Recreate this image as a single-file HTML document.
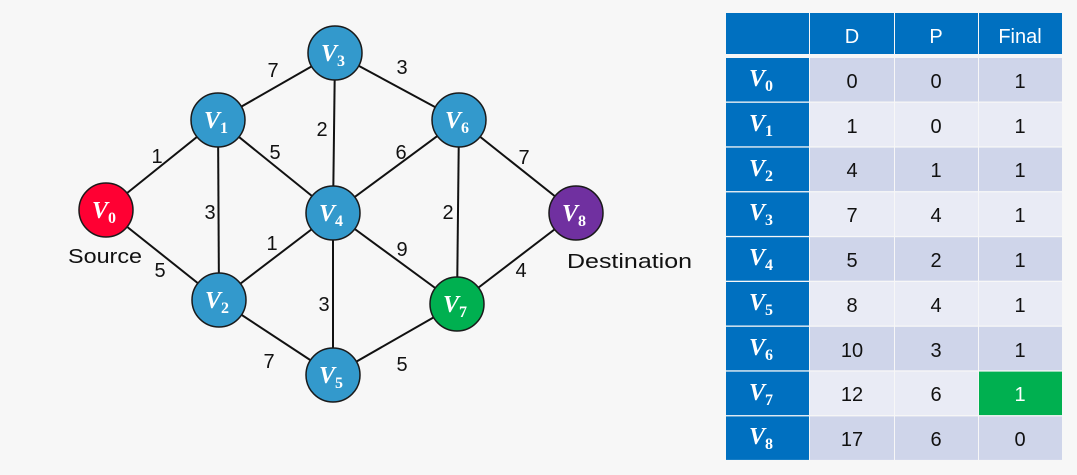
<!DOCTYPE html>
<html><head><meta charset="utf-8"><style>
html,body{margin:0;padding:0;background:#f7f7f7;}
svg{display:block}
</style></head><body>
<svg width="1077" height="475" viewBox="0 0 1077 475" xmlns="http://www.w3.org/2000/svg" font-family="Liberation Sans, sans-serif">
<rect width="1077" height="475" fill="#f7f7f7"/>
<g stroke="#111" stroke-width="2">
<line x1="106" y1="210" x2="218" y2="120"/>
<line x1="106" y1="210" x2="219" y2="300"/>
<line x1="218" y1="120" x2="335" y2="53"/>
<line x1="218" y1="120" x2="219" y2="300"/>
<line x1="218" y1="120" x2="333" y2="213"/>
<line x1="335" y1="53" x2="333" y2="213"/>
<line x1="335" y1="53" x2="459" y2="120"/>
<line x1="459" y1="120" x2="333" y2="213"/>
<line x1="459" y1="120" x2="457" y2="304"/>
<line x1="459" y1="120" x2="576" y2="213"/>
<line x1="219" y1="300" x2="333" y2="213"/>
<line x1="219" y1="300" x2="333" y2="375"/>
<line x1="333" y1="213" x2="333" y2="375"/>
<line x1="333" y1="213" x2="457" y2="304"/>
<line x1="333" y1="375" x2="457" y2="304"/>
<line x1="457" y1="304" x2="576" y2="213"/>
</g>
<g font-size="20" fill="#111" text-anchor="middle">
<text x="273" y="77">7</text>
<text x="402" y="74">3</text>
<text x="157" y="163">1</text>
<text x="275" y="159">5</text>
<text x="322" y="136">2</text>
<text x="401" y="159">6</text>
<text x="524" y="164">7</text>
<text x="210" y="219">3</text>
<text x="448" y="219">2</text>
<text x="272" y="250">1</text>
<text x="402" y="256">9</text>
<text x="160" y="277">5</text>
<text x="521" y="277">4</text>
<text x="324" y="311">3</text>
<text x="269" y="368">7</text>
<text x="402" y="371">5</text>
</g>
<g font-size="20" fill="#111">
<text x="68" y="263" textLength="74" lengthAdjust="spacingAndGlyphs">Source</text>
<text x="567" y="268" textLength="125" lengthAdjust="spacingAndGlyphs">Destination</text>
</g>
<g stroke="#1a1a1a" stroke-width="1.5">
<circle cx="106" cy="210" r="27" fill="#FF0033"/>
<circle cx="218" cy="120" r="27" fill="#3399CC"/>
<circle cx="219" cy="300" r="27" fill="#3399CC"/>
<circle cx="335" cy="53" r="27" fill="#3399CC"/>
<circle cx="333" cy="213" r="27" fill="#3399CC"/>
<circle cx="333" cy="375" r="27" fill="#3399CC"/>
<circle cx="459" cy="120" r="27" fill="#3399CC"/>
<circle cx="457" cy="304" r="27" fill="#00B050"/>
<circle cx="576" cy="213" r="27" fill="#7030A0"/>
</g>
<g fill="#fff" font-family="Liberation Serif, serif" font-weight="bold" font-style="italic" font-size="24">
<text x="92" y="218">V<tspan font-size="16" font-style="normal" dy="5">0</tspan></text>
<text x="204" y="128">V<tspan font-size="16" font-style="normal" dy="5">1</tspan></text>
<text x="205" y="308">V<tspan font-size="16" font-style="normal" dy="5">2</tspan></text>
<text x="321" y="61">V<tspan font-size="16" font-style="normal" dy="5">3</tspan></text>
<text x="319" y="221">V<tspan font-size="16" font-style="normal" dy="5">4</tspan></text>
<text x="319" y="383">V<tspan font-size="16" font-style="normal" dy="5">5</tspan></text>
<text x="445" y="128">V<tspan font-size="16" font-style="normal" dy="5">6</tspan></text>
<text x="443" y="312">V<tspan font-size="16" font-style="normal" dy="5">7</tspan></text>
<text x="562" y="221">V<tspan font-size="16" font-style="normal" dy="5">8</tspan></text>
</g>
<!-- table header -->
<rect x="726" y="13" width="83" height="41" fill="#0070C0"/>
<rect x="810" y="13" width="84" height="41" fill="#0070C0"/>
<rect x="895" y="13" width="83" height="41" fill="#0070C0"/>
<rect x="979" y="13" width="83" height="41" fill="#0070C0"/>
<g fill="#fff" font-size="20" text-anchor="middle">
<text x="852" y="43">D</text>
<text x="936" y="43">P</text>
<text x="1020" y="43">Final</text>
</g>
<!-- row backgrounds -->
<g>
<rect x="726" y="58" width="83" height="43.5" fill="#0070C0"/><rect x="810" y="58" width="84" height="43.5" fill="#CFD5EA"/><rect x="895" y="58" width="83" height="43.5" fill="#CFD5EA"/><rect x="979" y="58" width="83" height="43.5" fill="#CFD5EA"/>
<rect x="726" y="102.8" width="83" height="43.5" fill="#0070C0"/><rect x="810" y="102.8" width="84" height="43.5" fill="#E9EBF5"/><rect x="895" y="102.8" width="83" height="43.5" fill="#E9EBF5"/><rect x="979" y="102.8" width="83" height="43.5" fill="#E9EBF5"/>
<rect x="726" y="147.6" width="83" height="43.5" fill="#0070C0"/><rect x="810" y="147.6" width="84" height="43.5" fill="#CFD5EA"/><rect x="895" y="147.6" width="83" height="43.5" fill="#CFD5EA"/><rect x="979" y="147.6" width="83" height="43.5" fill="#CFD5EA"/>
<rect x="726" y="192.4" width="83" height="43.5" fill="#0070C0"/><rect x="810" y="192.4" width="84" height="43.5" fill="#E9EBF5"/><rect x="895" y="192.4" width="83" height="43.5" fill="#E9EBF5"/><rect x="979" y="192.4" width="83" height="43.5" fill="#E9EBF5"/>
<rect x="726" y="237.2" width="83" height="43.5" fill="#0070C0"/><rect x="810" y="237.2" width="84" height="43.5" fill="#CFD5EA"/><rect x="895" y="237.2" width="83" height="43.5" fill="#CFD5EA"/><rect x="979" y="237.2" width="83" height="43.5" fill="#CFD5EA"/>
<rect x="726" y="282" width="83" height="43.5" fill="#0070C0"/><rect x="810" y="282" width="84" height="43.5" fill="#E9EBF5"/><rect x="895" y="282" width="83" height="43.5" fill="#E9EBF5"/><rect x="979" y="282" width="83" height="43.5" fill="#E9EBF5"/>
<rect x="726" y="326.8" width="83" height="43.5" fill="#0070C0"/><rect x="810" y="326.8" width="84" height="43.5" fill="#CFD5EA"/><rect x="895" y="326.8" width="83" height="43.5" fill="#CFD5EA"/><rect x="979" y="326.8" width="83" height="43.5" fill="#CFD5EA"/>
<rect x="726" y="371.6" width="83" height="43.5" fill="#0070C0"/><rect x="810" y="371.6" width="84" height="43.5" fill="#E9EBF5"/><rect x="895" y="371.6" width="83" height="43.5" fill="#E9EBF5"/><rect x="979" y="371.6" width="83" height="43.5" fill="#00B050"/>
<rect x="726" y="416.4" width="83" height="43.5" fill="#0070C0"/><rect x="810" y="416.4" width="84" height="43.5" fill="#CFD5EA"/><rect x="895" y="416.4" width="83" height="43.5" fill="#CFD5EA"/><rect x="979" y="416.4" width="83" height="43.5" fill="#CFD5EA"/>
</g>
<g font-size="20" fill="#111" text-anchor="middle">
<text x="852" y="88">0</text><text x="936" y="88">0</text><text x="1020" y="88">1</text>
<text x="852" y="133">1</text><text x="936" y="133">0</text><text x="1020" y="133">1</text>
<text x="852" y="177">4</text><text x="936" y="177">1</text><text x="1020" y="177">1</text>
<text x="852" y="222">7</text><text x="936" y="222">4</text><text x="1020" y="222">1</text>
<text x="852" y="267">5</text><text x="936" y="267">2</text><text x="1020" y="267">1</text>
<text x="852" y="312">8</text><text x="936" y="312">4</text><text x="1020" y="312">1</text>
<text x="852" y="357">10</text><text x="936" y="357">3</text><text x="1020" y="357">1</text>
<text x="852" y="401">12</text><text x="936" y="401">6</text><text x="1020" y="401" fill="#fff">1</text>
<text x="852" y="446">17</text><text x="936" y="446">6</text><text x="1020" y="446">0</text>
</g>
<g fill="#fff" font-family="Liberation Serif, serif" font-weight="bold" font-style="italic" font-size="24">
<text x="749" y="86">V<tspan font-size="16" font-style="normal" dy="5">0</tspan></text>
<text x="749" y="131">V<tspan font-size="16" font-style="normal" dy="5">1</tspan></text>
<text x="749" y="176">V<tspan font-size="16" font-style="normal" dy="5">2</tspan></text>
<text x="749" y="220">V<tspan font-size="16" font-style="normal" dy="5">3</tspan></text>
<text x="749" y="265">V<tspan font-size="16" font-style="normal" dy="5">4</tspan></text>
<text x="749" y="310">V<tspan font-size="16" font-style="normal" dy="5">5</tspan></text>
<text x="749" y="355">V<tspan font-size="16" font-style="normal" dy="5">6</tspan></text>
<text x="749" y="400">V<tspan font-size="16" font-style="normal" dy="5">7</tspan></text>
<text x="749" y="444">V<tspan font-size="16" font-style="normal" dy="5">8</tspan></text>
</g>
</svg>
</body></html>
